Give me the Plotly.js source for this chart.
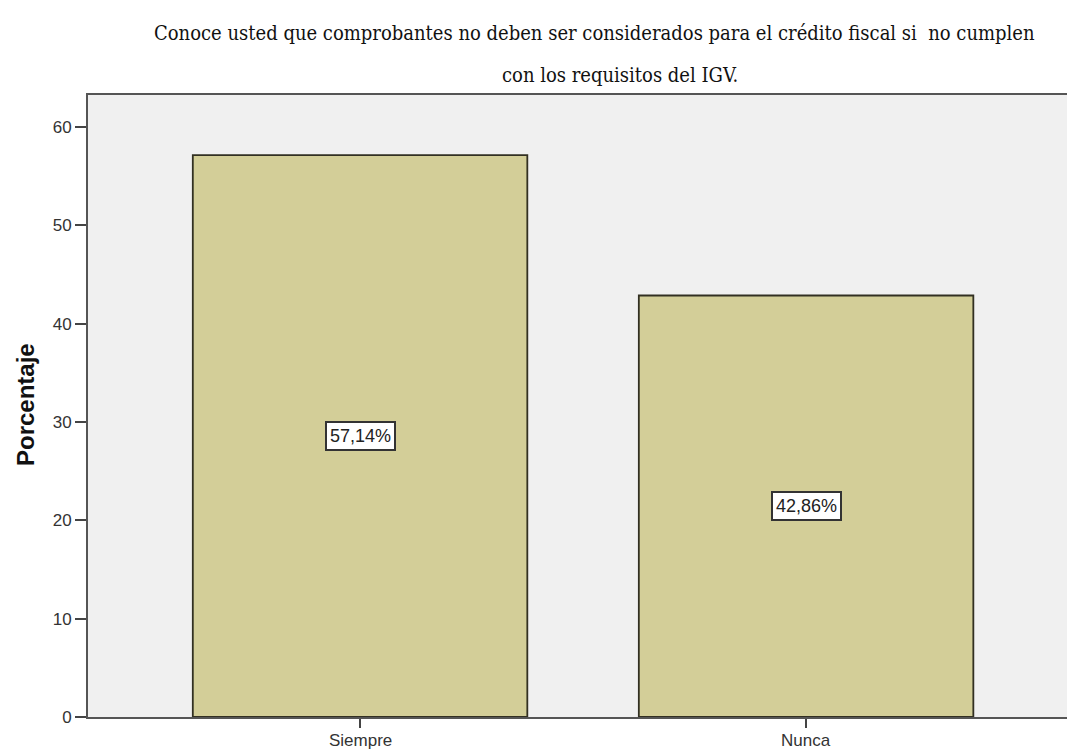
<!DOCTYPE html>
<html>
<head>
<meta charset="utf-8">
<script src="https://cdn.plot.ly/plotly-3.0.1.min.js"></script>
<style>
  html, body { margin: 0; padding: 0; background: #ffffff; overflow: hidden; }
  #chart { width: 1067px; height: 749px; }
</style>
</head>
<body>
<div id="chart"></div>
<script>
// Survey answer categories and their percentages
const categories = ["Siempre", "Nunca"];
const percentages = [57.14, 42.86];
const yTicks = [0, 10, 20, 30, 40, 50, 60];

const titleLine1 = "Conoce usted que comprobantes no deben ser considerados para el crédito fiscal si  no cumplen";
const titleLine2 = "con los requisitos del IGV.";
const yTitle = "Porcentaje";

// Percentage text in the Spanish decimal style, e.g. 57,14%
function pctLabel(v) {
  return v.toFixed(2).replace(".", ",") + "%";
}

// Plot area in page pixels, used to place free-floating text
const PLOT = { left: 88, right: 1067, top: 95, bottom: 717 };
const px2paperX = x => (x - PLOT.left) / (PLOT.right - PLOT.left);
const px2paperY = y => (PLOT.bottom - y) / (PLOT.bottom - PLOT.top);

const sans = "Liberation Sans, Arial, sans-serif";

const bars = {
  type: "bar",
  x: categories,
  y: percentages,
  width: 0.75,
  marker: {
    color: "rgb(211,206,152)",
    line: { color: "rgb(50,48,34)", width: 1.8 }
  },
  hoverinfo: "skip"
};

// Boxed value labels placed at half the bar height
const valueLabels = categories.map((c, i) => ({
  x: c,
  y: percentages[i] / 2,
  xref: "x",
  yref: "y",
  text: pctLabel(percentages[i]),
  showarrow: false,
  font: { family: sans, size: 18, color: "#222222" },
  bgcolor: "#ffffff",
  bordercolor: "#333333",
  borderwidth: 2,
  borderpad: 3
}));

// Category names under the axis, tight against the bottom edge
const categoryLabels = categories.map(c => ({
  x: c,
  xref: "x",
  yref: "paper",
  y: px2paperY(740),
  xanchor: "center",
  yanchor: "middle",
  text: c,
  showarrow: false,
  font: { family: sans, size: 17, color: "#333333" }
}));

const titleFont = { family: "DejaVu Serif Condensed, Liberation Serif, serif", size: 20, color: "#111111" };
const titleNotes = [
  { text: titleLine1, x: px2paperX(594), y: px2paperY(33) },
  { text: titleLine2, x: px2paperX(620), y: px2paperY(75) }
].map(a => Object.assign(a, {
  xref: "paper",
  yref: "paper",
  xanchor: "center",
  yanchor: "middle",
  showarrow: false,
  font: titleFont
}));

const yTitleNote = {
  text: "<b>" + yTitle + "</b>",
  xref: "paper",
  yref: "paper",
  x: px2paperX(25),
  y: px2paperY(405),
  xanchor: "center",
  yanchor: "middle",
  textangle: -90,
  showarrow: false,
  font: { family: sans, size: 24, color: "#111111" }
};

const layout = {
  width: 1067,
  height: 749,
  margin: { l: PLOT.left, r: 1067 - PLOT.right, t: PLOT.top, b: 749 - PLOT.bottom, pad: 0 },
  paper_bgcolor: "#ffffff",
  plot_bgcolor: "#f0f0f0",
  showlegend: false,
  xaxis: {
    type: "category",
    range: [-0.61, 1.585],
    showgrid: false,
    zeroline: false,
    showline: true,
    linecolor: "#555555",
    linewidth: 2,
    mirror: true,
    ticks: "outside",
    ticklen: 9,
    tickwidth: 2,
    tickcolor: "#444444",
    showticklabels: false
  },
  yaxis: {
    range: [0, 63.25],
    tickvals: yTicks,
    ticktext: yTicks.map(String),
    showgrid: false,
    zeroline: false,
    showline: true,
    linecolor: "#555555",
    linewidth: 2,
    ticks: "outside",
    ticklen: 11,
    tickwidth: 2,
    tickcolor: "#444444",
    tickfont: { family: sans, size: 17, color: "#333333" }
  },
  annotations: valueLabels.concat(categoryLabels, titleNotes, [yTitleNote])
};

Plotly.newPlot("chart", [bars], layout, { displayModeBar: false, staticPlot: true });
</script>
</body>
</html>
